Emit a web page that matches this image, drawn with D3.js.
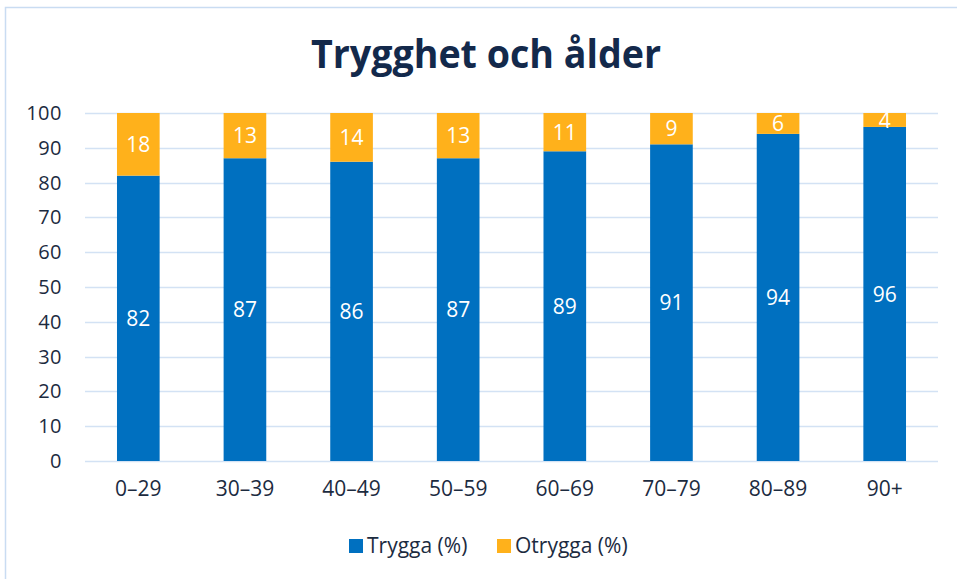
<!DOCTYPE html>
<html>
<head>
<meta charset="utf-8">
<script src="https://cdn.jsdelivr.net/npm/d3@7"></script>
<style>
  body { margin: 0; background: #fff; }
  text { font-family: "Open Sans", "Noto Sans", sans-serif; }
</style>
</head>
<body>
<script>
var categories = ["0–29", "30–39", "40–49", "50–59", "60–69", "70–79", "80–89", "90+"];
var trygga = [82, 87, 86, 87, 89, 91, 94, 96];
var otrygga = [18, 13, 14, 13, 11, 9, 6, 4];
var seriesNames = ["Trygga (%)", "Otrygga (%)"];
var yTicks = [0, 10, 20, 30, 40, 50, 60, 70, 80, 90, 100];

var colors = ["#0070c0", "#ffb11b"];
var w = 957, h = 579;
var plotLeft = 85, plotRight = 938, plotTop = 113, plotBottom = 461;

var svg = d3.select("body").append("svg")
  .attr("width", w)
  .attr("height", h);

// chart frame
svg.append("rect")
  .attr("x", 5.5).attr("y", 7.5)
  .attr("width", w + 10).attr("height", h + 10)
  .attr("fill", "none")
  .attr("stroke", "#c9dcf2")
  .attr("stroke-width", 1.5);

svg.append("text")
  .attr("transform", "translate(486, 68) scale(0.94, 1)")
  .attr("text-anchor", "middle")
  .style("font-weight", "bold")
  .style("font-size", "40px")
  .attr("fill", "#13294b")
  .text("Trygghet och ålder");

var x = d3.scaleBand().domain(categories).range([plotLeft, plotRight]).paddingInner(0.6).paddingOuter(0.3);
var y = d3.scaleLinear().domain([0, 100]).range([plotBottom, plotTop]);

// grid
svg.append("g").selectAll("line")
  .data(yTicks)
  .enter().append("line")
  .attr("x1", plotLeft).attr("x2", plotRight)
  .attr("y1", d => Math.round(y(d)) + 0.5)
  .attr("y2", d => Math.round(y(d)) + 0.5)
  .attr("stroke", "#d3e2f4")
  .attr("stroke-width", 1.5);

// y axis
var yAxis = svg.append("g")
  .attr("transform", `translate(${plotLeft - 23}, 0)`)
  .call(d3.axisLeft(y).tickValues(yTicks).tickSize(0).tickPadding(0));
yAxis.select(".domain").remove();
yAxis.selectAll("text")
  .style("font-size", "20px")
  .style("letter-spacing", "0.5px")
  .attr("fill", "#1c2b3f");

// x axis
var xAxis = svg.append("g")
  .attr("transform", `translate(0, ${plotBottom})`)
  .call(d3.axisBottom(x).tickSize(0).tickPadding(20));
xAxis.select(".domain").remove();
xAxis.selectAll("text")
  .style("font-size", "21px")
  .attr("fill", "#1c2b3f");

var rows = categories.map((c, i) => ({ cat: c, "Trygga (%)": trygga[i], "Otrygga (%)": otrygga[i] }));
var stacked = d3.stack().keys(seriesNames)(rows);

var groups = svg.selectAll(".series")
  .data(stacked)
  .enter().append("g")
  .attr("class", "series")
  .attr("fill", (d, i) => colors[i]);

groups.selectAll("rect")
  .data(d => d)
  .enter().append("rect")
  .attr("x", d => x(d.data.cat))
  .attr("width", x.bandwidth())
  .attr("y", d => y(d[1]))
  .attr("height", d => y(d[0]) - y(d[1]));

groups.selectAll(".lbl")
  .data(d => d)
  .enter().append("text")
  .attr("class", "lbl")
  .attr("x", d => x(d.data.cat) + x.bandwidth() / 2)
  .attr("y", d => (y(d[0]) + y(d[1])) / 2)
  .attr("dy", "0.36em")
  .attr("text-anchor", "middle")
  .attr("fill", "#fff")
  .style("font-size", "21px")
  .text(d => d[1] - d[0]);

// legend
var legend = svg.append("g");
var legendX = [349, 497];
seriesNames.forEach((name, i) => {
  legend.append("rect")
    .attr("x", legendX[i]).attr("y", 539)
    .attr("width", 14).attr("height", 14)
    .attr("fill", colors[i]);
  legend.append("text")
    .attr("x", legendX[i] + 18)
    .attr("y", 553)
    .style("font-size", "21px")
    .attr("fill", "#1c2b3f")
    .text(name);
});
</script>
</body>
</html>
